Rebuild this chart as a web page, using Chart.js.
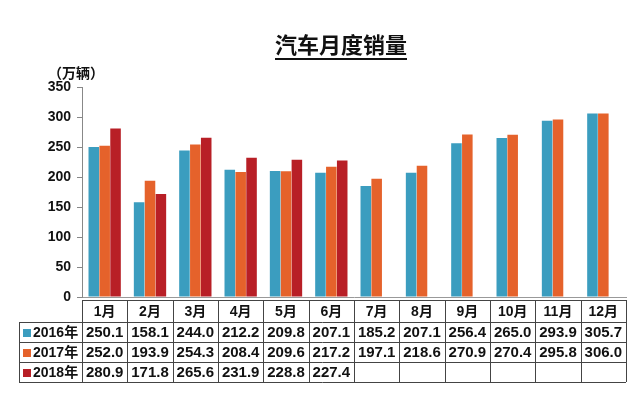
<!DOCTYPE html>
<html>
<head>
<meta charset="utf-8">
<script src="https://cdn.jsdelivr.net/npm/chart.js@4"></script>
<style>
  body { margin: 0; background: #fff; }
  #wrap { width: 640px; height: 396px; }
</style>
</head>
<body>
<div id="wrap"><canvas id="chart" width="640" height="396"></canvas></div>
<script>
// data (万辆)
var months = ["1月","2月","3月","4月","5月","6月","7月","8月","9月","10月","11月","12月"];
var seriesNames = ["2016年","2017年","2018年"];
var sales2016 = [250.1,158.1,244.0,212.2,209.8,207.1,185.2,207.1,256.4,265.0,293.9,305.7];
var sales2017 = [252.0,193.9,254.3,208.4,209.6,217.2,197.1,218.6,270.9,270.4,295.8,306.0];
var sales2018 = [280.9,171.8,265.6,231.9,228.8,227.4,null,null,null,null,null,null];
var yTicks = [0,50,100,150,200,250,300,350];

var colors = ["#3b9dbf","#e5622b","#b81f26"];
var fontLat = "'Liberation Sans', Arial, 'Noto Sans CJK SC', sans-serif";
var fontCJK = "'Noto Sans CJK SC', sans-serif";

// title, unit label and the data table under the x axis
var tablePlugin = {
  id: "tablePlugin",
  afterDraw: function(chart) {
    var ctx = chart.ctx;
    var x = chart.scales.x;
    var area = chart.chartArea;
    var colW = (area.right - area.left) / months.length;
    var top = 300, headH = 22, rowH = 20, labelLeft = 19;
    var all = [sales2016, sales2017, sales2018];

    ctx.save();
    // title
    ctx.fillStyle = "#111";
    ctx.font = "bold 22px " + fontCJK;
    ctx.textAlign = "center";
    ctx.textBaseline = "middle";
    ctx.fillText("汽车月度销量", 341, 45);
    var tw = ctx.measureText("汽车月度销量").width;
    ctx.fillRect(341 - tw / 2, 58, tw, 2);

    // unit
    ctx.font = "bold 14px " + fontCJK;
    ctx.textAlign = "left";
    ctx.fillText("（万辆）", 48, 73);

    // table grid
    ctx.strokeStyle = "#444";
    ctx.lineWidth = 1;
    var bottom = top + headH + rowH * 3;
    ctx.beginPath();
    ctx.moveTo(area.left, top + 0.5); ctx.lineTo(area.right, top + 0.5);
    for (var r = 0; r <= 3; r++) {
      var yy = Math.round(top + headH + rowH * r) + 0.5;
      ctx.moveTo(labelLeft, yy); ctx.lineTo(area.right, yy);
    }
    ctx.moveTo(labelLeft + 0.5, top + headH); ctx.lineTo(labelLeft + 0.5, bottom);
    for (var c = 0; c <= months.length; c++) {
      var xx = Math.round(area.left + colW * c) + 0.5;
      ctx.moveTo(xx, top); ctx.lineTo(xx, bottom);
    }
    ctx.stroke();

    // header
    ctx.fillStyle = "#111";
    ctx.textAlign = "center";
    ctx.font = "bold 14px " + fontLat;
    months.forEach(function(m, i) {
      ctx.fillText(m, x.getPixelForValue(i), top + headH / 2 + 1);
    });

    // rows
    all.forEach(function(vals, r) {
      var cy = top + headH + rowH * r + rowH / 2 + 1;
      ctx.fillStyle = colors[r];
      ctx.fillRect(labelLeft + 4, cy - 4, 8, 8);
      ctx.fillStyle = "#111";
      ctx.textAlign = "left";
      ctx.font = "bold 14px " + fontLat;
      ctx.fillText(seriesNames[r], labelLeft + 14, cy);
      ctx.textAlign = "center";
      ctx.font = "bold 15px " + fontLat;
      vals.forEach(function(v, i) {
        if (v !== null) ctx.fillText(v.toFixed(1), x.getPixelForValue(i), cy);
      });
    });
    ctx.restore();
  }
};

new Chart(document.getElementById("chart"), {
  type: "bar",
  data: {
    labels: months,
    datasets: [
      { label: seriesNames[0], data: sales2016, backgroundColor: colors[0] },
      { label: seriesNames[1], data: sales2017, backgroundColor: colors[1] },
      { label: seriesNames[2], data: sales2018, backgroundColor: colors[2] }
    ]
  },
  options: {
    responsive: false,
    animation: false,
    layout: { padding: { top: 87, right: 14, bottom: 99, left: 0 } },
    datasets: { bar: { categoryPercentage: 0.72, barPercentage: 0.97 } },
    scales: {
      x: {
        grid: { display: false, drawTicks: false },
        border: { display: true, color: "#999", width: 1 },
        ticks: { display: false },
        afterFit: function(s) { s.height = 0; }
      },
      y: {
        min: 0,
        max: 350,
        afterBuildTicks: function(s) { s.ticks = yTicks.map(function(v) { return { value: v }; }); },
        afterFit: function(s) { s.width = 82; },
        grid: { drawOnChartArea: false, tickLength: 5, color: "#888" },
        border: { display: true, color: "#888", width: 1 },
        ticks: {
          color: "#111",
          padding: 6,
          font: { family: fontLat, size: 14, weight: "bold" }
        }
      }
    },
    plugins: {
      legend: { display: false },
      tooltip: { enabled: false }
    }
  },
  plugins: [tablePlugin]
});
</script>
</body>
</html>
